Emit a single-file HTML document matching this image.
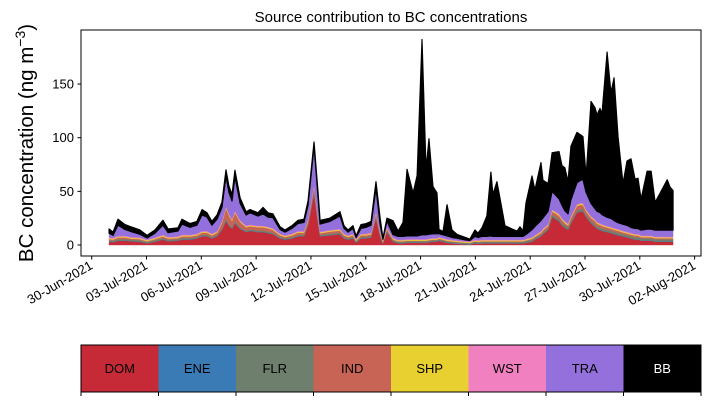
<!DOCTYPE html>
<html><head><meta charset="utf-8"><style>
html,body{margin:0;padding:0;background:#fff;}
svg{display:block;font-family:"Liberation Sans","DejaVu Sans",sans-serif;}
</style></head><body>
<svg id="chart" width="710" height="402" viewBox="0 0 710 402" xmlns="http://www.w3.org/2000/svg">
<text x="391" y="22" font-size="15" text-anchor="middle">Source contribution to BC concentrations</text>
<text transform="translate(33,143) rotate(-90)" font-size="20.5" text-anchor="middle">BC concentration (ng m<tspan dy="-8" font-size="14">−3</tspan><tspan dy="8">)</tspan></text>
<g id="layers"></g>
<rect x="81" y="30" width="620" height="226" fill="none" stroke="#000" stroke-width="1"/>
<g id="axes"></g>
<g id="legend"></g>
</svg>
<script>
const days = [0.95,1.17,1.44,1.82,2.15,2.64,3.03,3.46,3.90,4.18,4.72,4.94,5.38,5.76,6.04,6.31,6.58,6.86,7.13,7.35,7.51,7.68,7.84,8.12,8.45,8.67,9.10,9.38,9.65,9.92,10.31,10.58,10.96,11.29,11.62,11.84,12.17,12.39,12.50,13.04,13.59,13.81,14.03,14.30,14.47,14.74,15.02,15.29,15.56,15.78,15.94,16.16,
16.49,16.77,17.04,17.26,17.59,17.81,18.08,18.30,18.46,18.68,18.90,19.01,19.23,19.45,19.72,20.00,20.43,20.70,20.98,21.14,21.36,21.63,21.85,21.96,22.18,22.45,22.62,23.00,23.28,23.44,23.61,23.77,24.10,24.26,24.59,24.70,24.98,25.20,25.58,25.74,25.90,26.07,26.23,26.56,26.73,26.89,27.06,27.33,27.55,27.66,27.82,27.93,28.21,28.42,28.59,28.81,29.08,29.30,29.52,29.74,29.90,30.07,30.40,30.62,30.84,31.22,31.50,31.66,31.82];
const DOM = [3,2.5,4,4,3.5,3,1.5,3,5,3.5,4,5,5,6,8,8,6,8,14,22,18,15,20,15,12,13,12,12,11,10,6,5,6,8,8,18,48,20,8,9,10,6,5,6,2,6,6,7,25,8,1,12,
3,1.5,1.5,2,2,2,2,2,2.5,3,3,4,3,2,1.5,1,0.5,0.3,1.5,1,1.5,1.5,1.5,1.5,1.5,1.5,1.5,1.5,1.5,1.5,1.5,2,3,5,8,10,14,26,22,18,16,14,20,30,31,31,26,20,17,15,14,13,12,11,10,9,8,7,6,5,5,4,4,4,3,3,3,3,3];
const ENE = [0.3,0.3,0.3,0.3,0.3,0.3,0.3,0.3,0.3,0.3,0.3,0.3,0.3,0.3,0.3,0.3,0.3,0.3,0.3,0.5,0.3,0.3,0.5,0.3,0.3,0.3,0.3,0.3,0.3,0.3,0.3,0.3,0.3,0.3,0.3,0.3,0.5,0.3,0.3,0.3,0.3,0.3,0.3,0.3,0.3,0.3,0.3,0.3,0.3,0.3,0.3,0.3,
0.3,0.3,0.3,0.3,0.3,0.3,0.3,0.3,0.3,0.3,0.3,0.3,0.3,0.3,0.3,0.3,0.3,0.3,0.3,0.3,0.3,0.3,0.3,0.3,0.3,0.3,0.3,0.3,0.3,0.3,0.3,0.3,0.3,0.3,0.3,0.3,0.3,0.3,0.3,0.3,0.3,0.3,0.3,0.3,0.3,0.3,0.3,0.3,0.3,0.3,0.3,0.3,0.3,0.3,0.3,0.3,0.3,0.3,0.3,0.3,0.3,0.3,0.3,0.3,0.3,0.3,0.3,0.3,0.3];
const FLR = [1.2,1.2,1.2,1.2,1.2,1.2,1.2,1.2,1.2,1.2,1.2,1.2,1.2,1.2,1.2,1.2,1.2,1.2,1.2,1.8,1.2,1.2,1.5,1.2,1.2,1.2,1.2,1.2,1.2,1.2,1.2,1.2,1.2,1.2,1.2,1.2,1.8,1.2,1.2,1.2,1.2,1.2,1.2,1.2,1.2,1.2,1.2,1.2,1.2,1.2,1.2,1.2,
1.2,1.2,1.2,1.2,1.2,1.2,1.2,1.2,1.2,1.2,1.2,1.2,1.2,1.2,1.2,1.2,1.2,1.2,1.2,1.2,1.2,1.2,1.2,1.2,1.2,1.2,1.2,1.2,1.2,1.2,1.2,1.5,1.5,1.5,1.5,1.5,1.5,2,2,2,2,2,2,2,2,2,2,2,2,2,2,2,2,2,2,2,2,2,2,2,2,2,2,2,2,2,2,2,2,2,2,2,2];
const IND = [1,1,1.5,1.5,1,1,0.5,1,1.5,1,1,1.5,1.5,1.5,2,2,1.5,2,5,10,8,6,8,5,3,3,3,3,3,2.5,1.5,1,1.5,2,2,3,4,3,1.5,2,2,1.5,1,1.5,0.5,1.5,1.5,1.5,3,2,0.3,1.5,
0.7,0.5,0.5,0.5,0.5,0.5,0.5,0.5,0.5,0.5,0.5,0.5,0.5,0.5,0.5,0.3,0.2,0.1,0.5,0.5,0.5,0.5,0.5,0.5,0.5,0.5,0.5,0.5,0.5,0.5,0.5,0.5,1,1,1.5,2,2,3,3,3,2,2,3,4,4,4,3,3,3,2.5,2.5,2.5,2,2,2,2,1.5,1.5,1.5,1.5,1.5,1,1,1,1,1,1,1,1];
const SHP = [0.8,0.8,0.8,0.8,0.8,0.8,0.8,0.8,0.8,0.8,0.8,0.8,0.8,0.8,0.8,0.8,0.8,0.8,0.8,1,0.8,0.8,1,0.8,0.8,0.8,0.8,0.8,0.8,0.8,0.8,0.8,0.8,0.8,0.8,0.8,1,0.8,0.8,0.8,0.8,0.8,0.8,0.8,0.8,0.8,0.8,0.8,0.8,0.8,0.8,0.8,
0.8,0.8,0.8,0.8,0.8,0.8,0.8,0.8,0.8,0.8,0.8,0.8,0.8,0.8,0.8,0.8,0.8,0.8,0.8,0.8,0.8,0.8,0.8,0.8,0.8,0.8,0.8,0.8,0.8,0.8,0.8,0.8,0.8,0.8,0.8,0.8,0.8,1,1,1,1,1,1,1,1,1,1,0.8,0.8,0.8,0.8,0.8,0.8,0.8,0.8,0.8,0.8,0.8,0.8,0.8,0.8,0.8,0.8,0.8,0.8,0.8,0.8,0.8,0.8,0.8,0.8];
const WST = [0.7,0.7,0.7,0.7,0.7,0.7,0.7,0.7,0.7,0.7,0.7,0.7,0.7,0.7,0.7,0.7,0.7,0.7,0.7,0.7,0.7,0.7,0.7,0.7,0.7,0.7,0.7,0.7,0.7,0.7,0.7,0.7,0.7,0.7,0.7,0.7,0.7,0.7,0.7,0.7,0.7,0.7,0.7,0.7,0.7,0.7,0.7,0.7,0.7,0.7,0.7,0.7,
0.7,0.7,0.7,0.7,0.7,0.7,0.7,0.7,0.7,0.7,0.7,0.7,0.7,0.7,0.7,0.7,0.7,0.7,0.7,0.7,0.7,0.7,0.7,0.7,0.7,0.7,0.7,0.7,0.7,0.7,0.7,0.7,0.7,0.7,0.7,0.7,0.7,0.7,0.7,0.7,0.7,0.7,0.7,0.7,0.7,0.7,0.7,0.7,0.7,0.7,0.7,0.7,0.7,0.7,0.7,0.7,0.7,0.7,0.7,0.7,0.7,0.7,0.7,0.7,0.7,0.7,0.7,0.7,0.7];
const TRA = [4,2.5,10,6,5,3,1.5,4,9,4,5,10,7,8,15,13,8,11,13,28,20,17,32,16,10,11,9,11,9,10,4,3,5,7,8,13,36,18,7,8,12,5,3,5,1.5,5,6,7,22,7,1,6,
3,3,3,3,3,3,4,4,4,4,4,3,3,3,2,2,1,0.8,3,2.5,3,3,3.5,3,3,3,3,3,3,3,3,4,7,8,10,10,12,17,14,12,10,9,15,20,21,22,16,12,10,10,10,9,8,8,7,6,6,6,5,5,5,5,6,6,6,6,6,6,6];
const BB = [4,3,5.5,4.5,4.5,4,2.5,3,4.5,3.5,3,4.5,3.5,3.5,5,4,3.5,4,5,6,6,6,6,5,3,3,3,6,4,3.5,2.5,2,2.5,3,3,4,4,5,3.5,3,4,2.5,2,2.5,1.5,3.5,3.5,3.5,6,6,1,2.5,
13,5,13,62,40,56,182,61,89,44,38,4,3,29,7,3.5,2.5,1.3,6,4,8,19,59.5,39,51,26,10,7,5,9,5,29.5,50,34,54,35,26,36,44,37,40,30,50,47,43,40,15,95,94,90,97,94,154,117,133,80,38,60,64,46,47,29,54,54,26,38,47,40,37];
const seriesNames = ["DOM","ENE","FLR","IND","SHP","WST","TRA","BB"];
const seriesColors = ["#c62a36","#3a7ab5","#6e7f6e","#c86455","#e8d030","#f080c0","#9370db","#000000"];
const yTicks = [0,50,100,150];
const xTickDays = [0,3,6,9,12,15,18,21,24,27,30,33];
const xTickLabels = ["30-Jun-2021","03-Jul-2021","06-Jul-2021","09-Jul-2021","12-Jul-2021","15-Jul-2021","18-Jul-2021","21-Jul-2021","24-Jul-2021","27-Jul-2021","30-Jul-2021","02-Aug-2021"];

const NS = "http://www.w3.org/2000/svg";
function xScale(d){ return 91.7 + 18.27*d; }
function yScale(v){ return 245 - 1.073*v; }
function mk(tag, attrs, parent){ const e=document.createElementNS(NS,tag); for(const k in attrs) e.setAttribute(k,attrs[k]); parent.appendChild(e); return e; }

const data = [DOM,ENE,FLR,IND,SHP,WST,TRA,BB];
const layers = document.getElementById('layers');
let base = days.map(()=>0);
data.forEach((arr,si)=>{
  const top = base.map((b,i)=>b+(arr[i]||0));
  let dstr = "";
  days.forEach((d,i)=>{ dstr += (i?"L":"M")+xScale(d).toFixed(2)+","+yScale(top[i]).toFixed(2); });
  for(let i=days.length-1;i>=0;i--){ dstr += "L"+xScale(days[i]).toFixed(2)+","+yScale(base[i]).toFixed(2); }
  dstr += "Z";
  const p = mk('path',{d:dstr,fill:seriesColors[si],stroke:seriesColors[si],'stroke-width':(si===7?1.2:0.4),'stroke-linejoin':'round'},layers);
  
  
  base = top;
});

const axes = document.getElementById('axes');
yTicks.forEach(v=>{
  const y=yScale(v);
  const l=mk('line',{x1:77.5,x2:81,y1:y,y2:y,stroke:'#000','stroke-width':1},axes);
  
  
  const t=mk('text',{x:74,y:y+4.5,'font-size':13,'text-anchor':'end'},axes);
  
  
  t.textContent=v;
});
xTickDays.forEach((d,i)=>{
  const x=xScale(d);
  const l=mk('line',{x1:x,x2:x,y1:256,y2:259.5,stroke:'#000','stroke-width':1},axes);
  
  
  const t=mk('text',{transform:'translate('+(x+2)+',268) rotate(-30)','font-size':13,'text-anchor':'end'},axes);
  
  
  t.textContent=xTickLabels[i];
});

const legend = document.getElementById('legend');
const lx0=81, lw=620/8;
seriesNames.forEach((n,i)=>{
  const r=mk('rect',{x:lx0+i*lw,y:345,width:lw+0.5,height:47,fill:seriesColors[i]},legend);
  
  
  const t=mk('text',{x:lx0+i*lw+lw/2,y:373,'font-size':13,'text-anchor':'middle',fill:(i===7?'#fff':'#000')},legend);
  
  
  t.textContent=n;
});
const lf=mk('rect',{x:81,y:345,width:620,height:47,fill:'none',stroke:'#000','stroke-width':1},legend);


for(let i=0;i<=8;i++){
  const x=lx0+i*lw;
  const l=mk('line',{x1:x,x2:x,y1:392,y2:396,stroke:'#000','stroke-width':1},legend);
  
  
}
</script>
</body></html>
